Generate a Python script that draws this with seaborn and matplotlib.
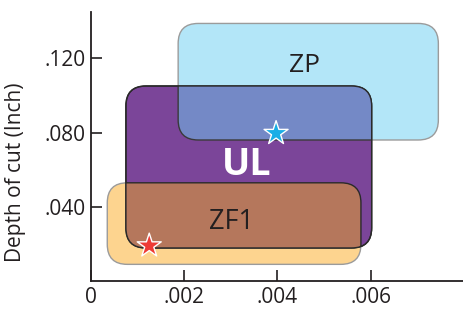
import matplotlib
matplotlib.use("Agg")
import matplotlib.pyplot as plt
from matplotlib.patches import FancyBboxPatch
import seaborn as sns
import pandas as pd

# regions: (x0, x1, y0, y1) in feed / depth units
zones = ["ZF1", "ZP", "UL"]
x_lo = [0.00035, 0.00187, 0.00075]
x_hi = [0.00579, 0.00745, 0.00602]
y_lo = [0.0092, 0.0760, 0.0180]
y_hi = [0.0530, 0.1386, 0.1050]

# label positions
label_x = [0.00301, 0.00459, 0.00334]
label_y = [0.0317, 0.1160, 0.0625]

# star markers
star_x = [0.00397, 0.00125]
star_y = [0.0796, 0.0192]
star_colors = ["#1aaee6", "#ee3b36"]

xticks = [0, 0.002, 0.004, 0.006]
xticklabels = ["0", ".002", ".004", ".006"]
yticks = [0.04, 0.08, 0.12]
yticklabels = [".040", ".080", ".120"]

sns.set_style("ticks")
plt.rcParams["font.family"] = ["Open Sans", "DejaVu Sans"]

fig = plt.figure(figsize=(4.64, 3.10), dpi=100)
ax = fig.add_axes([0.196, 0.092, 0.804, 0.869])
ax.set_xlim(0, 0.0080)
ax.set_ylim(0, 0.1447)

# ratio of y-units to x-units per pixel, keeps corners circular
aspect = (0.1447 / (0.869 * 310)) / (0.0080 / (0.804 * 464))
rnd = 0.00043


def box(i, fc, ec, lw=1.0, z=1, clip=None, fill=True):
    p = FancyBboxPatch((x_lo[i], y_lo[i]), x_hi[i] - x_lo[i], y_hi[i] - y_lo[i],
                       boxstyle=f"round,pad=0,rounding_size={rnd}",
                       mutation_aspect=aspect, facecolor=fc, edgecolor=ec,
                       linewidth=lw, zorder=z, fill=fill)
    ax.add_patch(p)
    if clip is not None:
        p.set_clip_path(clip)
    return p


box(0, "#fdd48f", "#9b9b9b", z=1)
box(1, "#b3e6f8", "#9b9b9b", z=1)
ul = box(2, "#7b4599", "#2a2a2a", z=2)
box(1, "#7489c6", "#3a3a3a", z=3, clip=ul)
box(0, "#b5775c", "#2a2a2a", z=3, clip=ul)
box(2, "none", "#2a2a2a", z=4, fill=False)

stars = pd.DataFrame({"x": star_x, "y": star_y, "c": star_colors})
sns.scatterplot(data=stars, x="x", y="y", hue="c", palette=dict(zip(star_colors, star_colors)),
                marker="*", s=330, edgecolor="white", linewidth=1.0, legend=False,
                zorder=5, ax=ax)

ax.text(label_x[0], label_y[0], "ZF1", fontsize=19.5, color="#231f20",
        ha="center", va="center", zorder=6)
ax.text(label_x[1], label_y[1], "ZP", fontsize=19, color="#231f20",
        ha="center", va="center", zorder=6)
ax.text(label_x[2], label_y[2], "UL", fontsize=27, color="white", fontweight="bold",
        ha="center", va="center", zorder=6)

ax.set_xticks(xticks)
ax.set_xticklabels(xticklabels, fontsize=15)
ax.set_yticks(yticks)
ax.set_yticklabels(yticklabels, fontsize=15)
ax.tick_params(direction="in", length=8, width=1.2, colors="#231f20", pad=4)
ax.set_xlabel("")
ax.set_ylabel("Depth of cut (Inch)", fontsize=15, color="#231f20")
ax.yaxis.set_label_coords(-0.174, 0.405)
sns.despine(ax=ax)
for s in ["left", "bottom"]:
    ax.spines[s].set_linewidth(1.3)
    ax.spines[s].set_color("#231f20")

fig.savefig("out.png", dpi=100)
